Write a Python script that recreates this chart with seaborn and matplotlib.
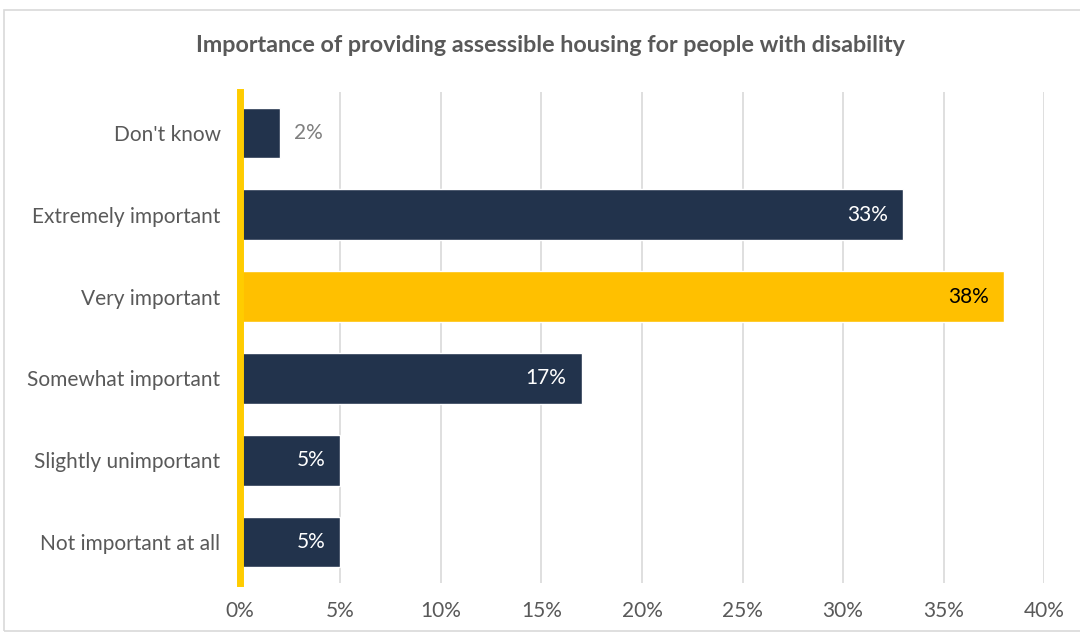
import matplotlib
matplotlib.use("Agg")
import matplotlib.pyplot as plt
import seaborn as sns
import pandas as pd
from matplotlib.patches import Rectangle
from matplotlib.ticker import FuncFormatter, MultipleLocator

categories = ["Don't know", "Extremely important", "Very important",
              "Somewhat important", "Slightly unimportant", "Not important at all"]
values = [2, 33, 38, 17, 5, 5]
labels = ["2%", "33%", "38%", "17%", "5%", "5%"]
title = "Importance of providing assessible housing for people with disability"

NAVY = "#22334C"
YELLOW = "#FFC000"
bar_colors = [YELLOW if c == "Very important" else NAVY for c in categories]

sns.set_theme(style="white")
plt.rcParams["font.family"] = ["Lato", "DejaVu Sans"]

df = pd.DataFrame({"category": categories, "value": values})

fig = plt.figure(figsize=(10.8, 6.35), dpi=100)
ax = fig.add_axes([0.2222, 0.0819, 0.7445, 0.7732])

sns.barplot(data=df, x="value", y="category", hue="category",
            palette=dict(zip(categories, bar_colors)), legend=False,
            width=0.62, ax=ax, saturation=1, order=categories)

ax.set_xlim(0, 40)
ax.xaxis.set_major_locator(MultipleLocator(5))
ax.xaxis.set_major_formatter(FuncFormatter(lambda v, p: f"{v:.0f}%"))
ax.set_xlabel("")
ax.set_ylabel("")
ax.grid(axis="x", color="#D9D9D9", linewidth=1.2)
ax.set_axisbelow(True)
for s in ["top", "right", "bottom"]:
    ax.spines[s].set_visible(False)
ax.spines["left"].set_color("#FFCC00")
ax.spines["left"].set_linewidth(5)
ax.tick_params(axis="both", length=0, labelsize=15, colors="#595959")
ax.tick_params(axis="y", pad=14)
ax.tick_params(axis="x", pad=13)

for i, (v, lab) in enumerate(zip(values, labels)):
    if v < 4:
        ax.text(v + 0.7, i, lab, va="center", ha="left", fontsize=15, color="#7F7F7F")
    else:
        col = "black" if categories[i] == "Very important" else "white"
        ax.text(v - 0.75, i, lab, va="center", ha="right", fontsize=15, color=col)

fig.text(0.51, 0.929, title, ha="center", va="center", fontsize=16.8,
         fontweight="bold", color="#595959")

fig.patches.append(Rectangle((0.004, 0.006), 1.5, 0.978, transform=fig.transFigure,
                             fill=False, edgecolor="#D9D9D9", linewidth=1.2))

fig.savefig("out.png", dpi=100)
